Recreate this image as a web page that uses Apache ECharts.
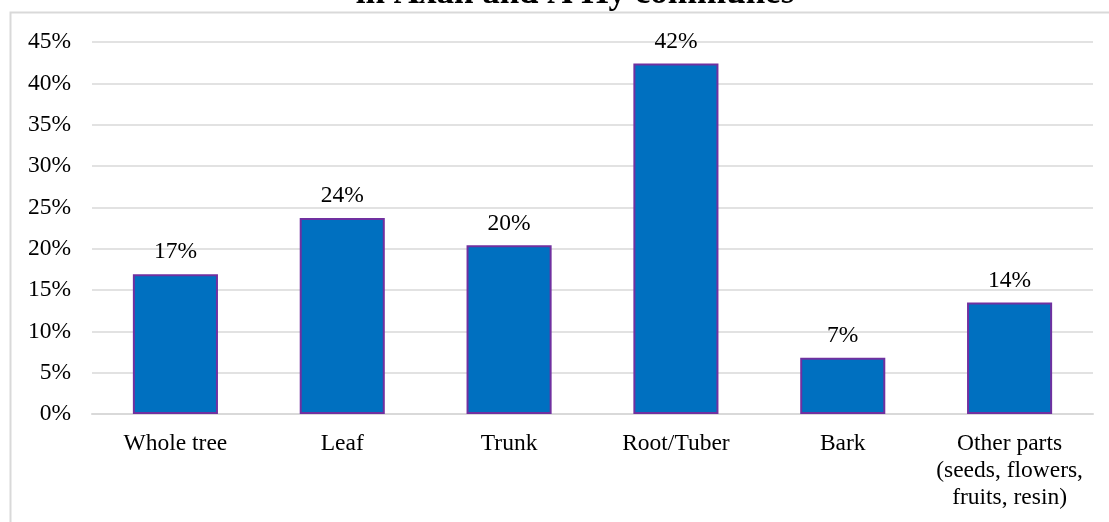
<!DOCTYPE html>
<html>
<head>
<meta charset="utf-8">
<script src="https://cdn.jsdelivr.net/npm/echarts@6/dist/echarts.min.js"></script>
<style>html,body{margin:0;padding:0;background:#fff}#c{width:1109px;height:522px}</style>
</head>
<body>
<div id="c"></div>
<script>
const categories = ['Whole tree', 'Leaf', 'Trunk', 'Root/Tuber', 'Bark', 'Other parts\n(seeds, flowers,\nfruits, resin)'];
const values = [16.9, 23.7, 20.4, 42.4, 6.8, 13.5];
const titleText = 'in Axan and A Hy communes';

const chart = echarts.init(document.getElementById('c'));
chart.setOption({
  animation: false,
  graphic: [
    { type: 'rect', shape: { x: 10.5, y: 12.5, width: 1300, height: 700 }, style: { fill: 'none', stroke: '#d9d9d9', lineWidth: 2 }, z: -1 },
    { type: 'text', x: 575, y: 11, style: { text: titleText, font: 'bold 35px "Liberation Serif"', fill: '#000', align: 'center', verticalAlign: 'bottom' } }
  ],
  grid: { left: 92, right: 16, top: 42, bottom: 108 },
  xAxis: {
    type: 'category',
    data: categories,
    axisLine: { lineStyle: { color: '#d9d9d9', width: 2 } },
    axisTick: { show: false },
    axisLabel: { color: '#000', fontFamily: 'Liberation Serif', fontSize: 23.5, margin: 16, lineHeight: 27, interval: 0 }
  },
  yAxis: {
    type: 'value',
    min: 0, max: 45, interval: 5,
    axisLine: { show: false },
    axisTick: { show: false },
    axisLabel: { color: '#000', fontFamily: 'Liberation Serif', fontSize: 23.5, margin: 21, formatter: '{value}%' },
    splitLine: { lineStyle: { color: '#d9d9d9', width: 1.5 } }
  },
  series: [{
    type: 'bar',
    data: values,
    barWidth: '51%',
    itemStyle: { color: '#0070C0', borderColor: '#7030A0', borderWidth: 2 },
    label: { show: true, position: 'top', distance: 10, color: '#000', fontFamily: 'Liberation Serif', fontSize: 23.5, formatter: p => Math.round(p.value) + '%' }
  }]
});
</script>
</body>
</html>
